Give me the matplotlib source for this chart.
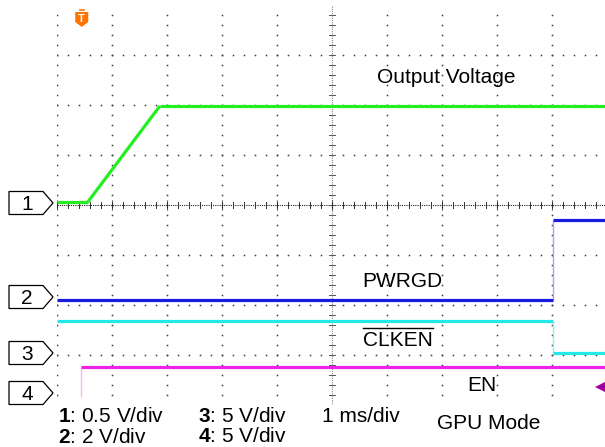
import matplotlib
matplotlib.use("Agg")
import matplotlib.pyplot as plt
import numpy as np
from matplotlib.patches import Polygon
from matplotlib.lines import Line2D

plt.rcParams['font.family'] = ['Liberation Sans', 'DejaVu Sans']
plt.rcParams['mathtext.fontset'] = 'custom'
plt.rcParams['mathtext.rm'] = 'Liberation Sans'
plt.rcParams['mathtext.bf'] = 'Liberation Sans:bold'

# ---------------- data (time in ms, values in V) ----------------
t_out = [0.0, 0.56, 1.87, 10.0]          # ch1 Output Voltage
v_out = [0.01, 0.01, 0.97, 0.97]
t_pwrgd = [0.0, 9.02, 9.02, 10.0]        # ch2 PWRGD
v_pwrgd = [-0.1, -0.1, 3.1, 3.1]
t_clken = [0.0, 9.02, 9.02, 10.0]        # ch3 CLKEN (inverted)
v_clken = [3.2, 3.2, 0.0, 0.0]
t_en = [0.44, 0.44, 10.0]                # ch4 EN
v_en = [-0.4, 2.6, 2.6]

channel_names = ["1", "2", "3", "4"]
volts_per_div = [0.5, 2.0, 5.0, 5.0]
ground_div = [0.04, -1.84, -2.96, -3.76]   # channel reference level on screen (div)
trigger_time = 0.45
trigger_level = 0.6  # V on ch4

scale_labels = [r"$\mathbf{1}$: 0.5 V/div", r"$\mathbf{2}$: 2 V/div",
                r"$\mathbf{3}$: 5 V/div", r"$\mathbf{4}$: 5 V/div"]
time_label = "1 ms/div"
mode_label = "GPU Mode"

# ---------------- figure ----------------
W, H = 605, 447
fig = plt.figure(figsize=(W / 100, H / 100), dpi=100)
ax = fig.add_axes([57 / W, (H - 405) / H, 550 / W, 400 / H])
ax.set_xlim(0, 10)
ax.set_ylim(-4, 4)
ax.axis('off')

PXX = 10 / 550.0   # ms per pixel
PXY = 8 / 400.0    # div per pixel

# graticule dots
dot_c = '#3a3a3a'
ys = np.arange(-4 + 0.2, 4.0, 0.2)
xs = np.arange(0, 10.01, 0.2)
for i in range(0, 10):
    if i == 5:
        continue
    ax.plot(np.full_like(ys, i), ys, ls='none', marker='s', ms=1.1, mew=0, color=dot_c, zorder=1)
for j in range(-3, 4):
    if j == 0:
        continue
    ax.plot(xs, np.full_like(xs, j), ls='none', marker='s', ms=1.1, mew=0, color=dot_c, zorder=1)

# center axes with minor ticks
ax.plot([5, 5], [-4, 4], color='#888888', lw=0.8, ls=(0, (1, 1)), zorder=1)
ax.plot([0, 10], [0, 0], color='#222222', lw=0.8, ls=(0, (1, 1)), zorder=1)
for y in ys:
    ax.plot([5 - 3 * PXX, 5 + 3 * PXX], [y, y], color='#555555', lw=0.7, zorder=1)
for x in xs:
    ax.plot([x, x], [-3 * PXY, 3 * PXY], color='#333333', lw=0.7, zorder=1)
for i in range(0, 11):
    ax.plot([i, i], [-5 * PXY, 5 * PXY], color='#222222', lw=0.8, ls=(0, (1, 1)), zorder=1)

# traces
traces = [(t_out, v_out, '#22ee22', '#90f090'),
          (t_pwrgd, v_pwrgd, '#1a1ae0', '#a8a8f0'),
          (t_clken, v_clken, '#22e8e8', '#90f0f0'),
          (t_en, v_en, '#ee22e6', '#f8b8f0')]
for k, (t, v, c, lc) in enumerate(traces):
    y = [ground_div[k] + vv / volts_per_div[k] for vv in v]
    for a in range(len(t) - 1):
        if t[a] == t[a + 1]:
            ax.plot(t[a:a + 2], y[a:a + 2], color=lc, lw=1.0, zorder=3, solid_capstyle='butt')
        else:
            ax.plot(t[a:a + 2], y[a:a + 2], color=c, lw=2.3, zorder=4, solid_capstyle='butt')

# channel reference markers
for k, name in enumerate(channel_names):
    yc = ground_div[k]
    x0 = (9 - 57) * PXX
    x1 = (43 - 57) * PXX
    xt = (53 - 57) * PXX
    hh = 11.5 * PXY
    poly = Polygon([[x0, yc - hh], [x1, yc - hh], [xt, yc], [x1, yc + hh], [x0, yc + hh]],
                   closed=True, facecolor='white', edgecolor='black', lw=0.9,
                   clip_on=False, zorder=5)
    ax.add_patch(poly)
    ax.text((x0 + x1) / 2 + 1 * PXX, yc - 1 * PXY, name, ha='center', va='center',
            fontsize=15, clip_on=False, zorder=6)

# trigger position marker (orange T)
ty = (205 - 19) * PXY
shield = Polygon([[trigger_time - 6.5 * PXX, ty + 7 * PXY], [trigger_time + 6.5 * PXX, ty + 7 * PXY],
                  [trigger_time + 6.5 * PXX, ty - 3 * PXY], [trigger_time, ty - 8 * PXY],
                  [trigger_time - 6.5 * PXX, ty - 3 * PXY]],
                 closed=True, facecolor='#ff7300', edgecolor='none', zorder=6, clip_on=False)
ax.add_patch(shield)
ax.plot([trigger_time - 2 * PXX, trigger_time + 2 * PXX], [ty + 9 * PXY, ty + 9 * PXY],
        color='#ff7300', lw=1.2, zorder=6, clip_on=False)
ax.text(trigger_time, ty + 0.5 * PXY, "T", color='white', fontsize=8, fontweight='bold',
        ha='center', va='center', zorder=7)

# trigger level marker
tl = ground_div[3] + trigger_level / volts_per_div[3]
ax.plot([(600 - 57) * PXX], [tl], marker='<', ms=7, color='#a000a0', mew=0,
        clip_on=False, zorder=6)

# labels
def ftext(x, y, s, **kw):
    return fig.text(x / W, (H - y) / H, s, fontsize=15, va='baseline', ha='left', **kw)

ftext(377, 83, "Output Voltage")
ftext(362, 287, "PWRGD")
clk = ftext(363, 346, "CLKEN")
ftext(467, 391, "EN")
ftext(58, 422, scale_labels[0])
ftext(58, 443, scale_labels[1])
ftext(198, 422, scale_labels[2])
ftext(198, 442, scale_labels[3])
ftext(322, 422, time_label)
ftext(437, 429, mode_label)

# overline for CLKEN
fig.canvas.draw()
bb = clk.get_window_extent(fig.canvas.get_renderer())
yl = (H - 328) / H
fig.add_artist(Line2D([bb.x0 / W, bb.x1 / W], [yl, yl], color='black', lw=1.0,
                      transform=fig.transFigure))

fig.savefig("out.png", dpi=100)
